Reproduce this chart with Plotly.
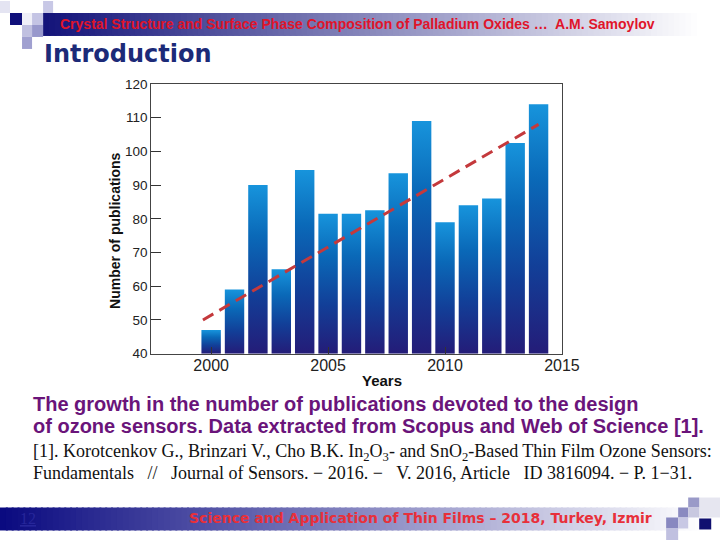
import plotly.graph_objects as go

# ---------------- data ----------------
years = list(range(2000, 2015))
publications = [47, 59, 90, 65, 94.5, 81.5, 81.5, 82.5, 93.5, 109, 79, 84, 86, 102.5, 114]
trend_years = [1999.65, 2014.0]
trend_values = [50, 108]
x_ticks = [2000, 2005, 2010, 2015]
y_ticks = [40, 50, 60, 70, 80, 90, 100, 110, 120]

# page size and the picture->page mapping observed for the capture
W, H = 740, 556
S, OX, OY = 0.974, 0.0, 6.0


def px(x):
    return ((x - OX) / S) / W


def py(y):
    return 1 - ((y - OY) / S) / H


def lerp_color(c0, c1, t):
    a = [int(c0[i:i + 2], 16) for i in (1, 3, 5)]
    b = [int(c1[i:i + 2], 16) for i in (1, 3, 5)]
    return "rgb(%d,%d,%d)" % tuple(round(a[k] + (b[k] - a[k]) * t) for k in range(3))


BAR_W = 0.83
Y_BASE = 40
bar_scale = [[0, "#241c78"], [0.35, "#123f98"], [0.7, "#0a69b8"], [1, "#1794dc"]]

fig = go.Figure()

for yr, v in zip(years, publications):
    x0, x1 = yr - BAR_W / 2, yr + BAR_W / 2
    fig.add_trace(go.Scatter(
        x=[x0, x1, x1, x0, x0], y=[Y_BASE, Y_BASE, v, v, Y_BASE],
        mode="lines", line=dict(width=0), fill="toself",
        fillgradient=dict(type="vertical", colorscale=bar_scale),
        name=str(yr), showlegend=False, hoverinfo="skip"))

fig.add_trace(go.Scatter(
    x=trend_years, y=trend_values, mode="lines",
    line=dict(color="#c4393c", width=3, dash="12px,7px"),
    showlegend=False, hoverinfo="skip"))

shapes = []
N = 120
hx0, hx1 = 43, 730
for i in range(N):
    a = hx0 + (hx1 - hx0) * i / N
    b = hx0 + (hx1 - hx0) * (i + 1) / N + 2
    t = min(1.0, (i / N) / 0.95)
    shapes.append(dict(type="rect", xref="paper", yref="paper", layer="below",
                       x0=px(a), x1=px(b), y0=py(35), y1=py(12), line=dict(width=0),
                       fillcolor=lerp_color("#14147a", "#ffffff", t)))
bx0, bx1 = 0, 700
for i in range(N):
    a = bx0 + (bx1 - bx0) * i / N
    b = bx0 + (bx1 - bx0) * (i + 1) / N + 2
    t = i / N
    shapes.append(dict(type="rect", xref="paper", yref="paper", layer="below",
                       x0=px(a), x1=px(b), y0=py(530), y1=py(507), line=dict(width=0),
                       fillcolor=lerp_color("#0a0a80", "#ffffff", t)))

squares = [
    (0, 0, 10, 12, "#e4e4f2"),
    (10, 12, 22, 24, "#10107a"),
    (22, 12, 32, 24, "#f0f0f8"),
    (32, 12, 43, 24, "#c4c4e4"),
    (43, 0, 53, 12, "#c8c8e6"),
    (22, 24, 32, 36, "#c0c0e0"),
    (32, 24, 43, 36, "#9898cc"),
    (22, 36, 32, 48, "#a0a0d0"),
    (698, 497, 720, 517, "#e6e6f0"),
    (687, 497, 698, 507, "#9a9ac8"),
    (677, 507, 687, 517, "#8a8ac0"),
    (687, 507, 698, 517, "#c8c8e0"),
    (665, 517, 677, 528, "#8888c0"),
    (677, 517, 687, 528, "#c8c8e4"),
    (698, 518, 710, 529, "#101070"),
    (665, 528, 677, 540, "#c0c0e0"),
]
for (a, b, c, d, col) in squares:
    shapes.append(dict(type="rect", xref="paper", yref="paper", layer="below",
                       x0=px(a), x1=px(c), y0=py(d), y1=py(b), line=dict(width=0),
                       fillcolor=col))


def note(text, x, y, family, size, color, weight="normal", xanchor="left", angle=0):
    return dict(text=text, x=px(x), y=py(y), xref="paper", yref="paper",
                xanchor=xanchor, yanchor="middle", showarrow=False, textangle=angle,
                font=dict(family=family, size=size, color=color, weight=weight))


SANS = "Arial, Liberation Sans"
SERIF = "Liberation Serif, Times New Roman"
NB = "\u00a0"
annotations = [
    note("Crystal Structure and Surface Phase Composition of Palladium Oxides …  A.M. Samoylov",
         58, 23, SANS, 14, "#e0142a", "bold"),
    note("Introduction", 42, 53, "DejaVu Sans", 24, "#1c2a78", "bold"),
    note("Years", 381, 380, SANS, 15, "#111", "bold", xanchor="center"),
    note("Number of publications", 115, 230, SANS, 14, "#111", "bold", xanchor="center", angle=-90),
    note("The growth in the number of publications devoted to the design",
         31, 403, SANS, 20, "#6a147a", "bold"),
    note("of ozone sensors. Data extracted from Scopus and Web of Science [1].",
         31, 425, SANS, 20, "#6a147a", "bold"),
    note("[1]. Korotcenkov G., Brinzari V., Cho B.K. In<sub>2</sub>O<sub>3</sub>- and SnO<sub>2</sub>-Based Thin Film Ozone Sensors:",
         31, 452, SERIF, 18, "#111111"),
    note("Fundamentals" + NB * 3 + "//" + NB * 3 + "Journal of Sensors. − 2016. −" + NB * 3 + "V. 2016, Article" + NB * 3 + "ID 3816094. − P. 1−31.",
         31, 472, SERIF, 18, "#111111"),
    note("Science and Application of Thin Films – 2018, Turkey, Izmir",
         187, 518, "DejaVu Sans", 14, "#e8303a", "bold"),
    note("<u>12</u>", 18, 518, "Liberation Serif", 16, "#26269a"),
]

fig.update_layout(
    width=W, height=H, autosize=False,
    margin=dict(l=0, r=0, t=0, b=0),
    paper_bgcolor="white", plot_bgcolor="white",
    showlegend=False,
    shapes=shapes, annotations=annotations,
    xaxis=dict(
        domain=[px(151), px(561)], range=[1997.44, 2015],
        tickvals=x_ticks, ticks="inside", ticklen=7, tickcolor="#333",
        showline=True, linecolor="#444", linewidth=1.3, mirror=True,
        showgrid=False, zeroline=False, ticklabelstandoff=-3,
        tickfont=dict(family=SANS, size=16, color="#222"),
    ),
    yaxis=dict(
        domain=[py(353), py(83)], range=[40, 120],
        tickvals=y_ticks, ticks="inside", ticklen=10, tickcolor="#333",
        showline=True, linecolor="#444", linewidth=1.3, mirror=True,
        showgrid=False, zeroline=False,
        tickfont=dict(family=SANS, size=13.5, color="#222"),
    ),
)

fig.write_html("out.html", config={"displayModeBar": False},
               post_script="document.body.style.margin='0';document.body.style.overflow='hidden';")
